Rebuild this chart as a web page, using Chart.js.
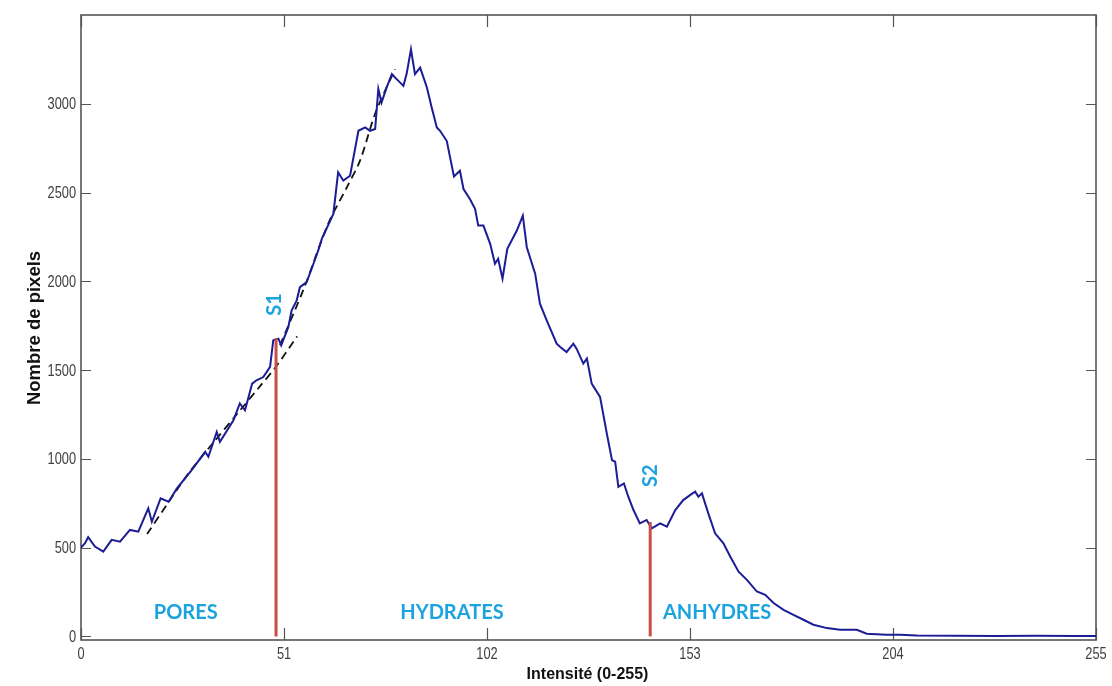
<!DOCTYPE html>
<html>
<head>
<meta charset="utf-8">
<script src="https://cdn.jsdelivr.net/npm/chart.js@4.4.1/dist/chart.umd.min.js"></script>
<style>
  html, body { margin: 0; padding: 0; background: #ffffff; }
  #wrap { width: 1112px; height: 686px; position: relative; }
</style>
</head>
<body>
<div id="wrap"><canvas id="c" width="1112" height="686"></canvas></div>
<script>
// ---- Data ----
const intensite = [0,1,1.8,3.5,5.6,7.7,9.8,12.3,14.4,16.9,17.8,20,22,24.1,27.8,31.2,32,34.1,34.9,38.3,39.9,41.2,43,44.1,45.8,47.5,48.3,49.6,50.3,52.1,52.9,54.2,55,56.7,58.4,59.6,60.5,63.4,64.6,65.9,67.6,69.7,71.4,72.6,73.9,74.7,75.5,76.8,78.1,79.3,81,81.8,82.9,83.9,85.2,86.9,88.1,89.4,90.2,91.9,93.7,95.2,96.1,97.7,99,99.8,101.1,102.8,104,104.8,105.9,107.1,109.5,111,112,114.1,115.3,117,119.5,120.4,122,123.7,124.5,126.2,127.1,128.3,130.4,132.1,133.4,134.2,135,136.4,137.5,138.8,140.4,142.1,143.4,145.5,147.2,149.3,151.3,153,154.3,155.1,156,157.6,159.3,161.4,163.1,165.2,167.3,169.8,171.9,174,176.5,179,181.5,184,187.4,190.7,194.9,197.4,202.4,205.8,210,220,230,240,250,255];
const nombrePixels = [500,525,559,506,478,544,534,600,590,722,646,778,759,834,937,1040,1012,1152,1096,1218,1312,1274,1424,1443,1461,1518,1668,1677,1640,1743,1836,1893,1967,1996,2099,2174,2239,2380,2614,2567,2595,2848,2867,2848,2858,3083,3007,3092,3167,3139,3101,3167,3307,3167,3204,3092,2979,2867,2848,2790,2590,2623,2520,2464,2408,2314,2314,2211,2099,2127,2015,2183,2286,2370,2192,2043,1874,1780,1649,1630,1602,1649,1621,1537,1565,1424,1349,1143,993,984,843,862,787,712,637,656,609,637,618,712,768,796,815,787,806,693,581,525,450,365,319,253,234,188,150,122,94,66,47,38,38,15,10,10,5,4,3,4,3,3];

const fitPoresX = [16.6,21.5,27.4,33.2,39.1,45,49,54.3];
const fitPoresY = [577,740,930,1090,1250,1410,1520,1690];
const fitHydX = [50,56,62.1,66.8,70.1,74,78.9];
const fitHydY = [1640,1960,2324,2530,2680,2950,3195];

const seuilS1X = [49, 49];
const seuilS1Y = [0, 1680];
const seuilS2X = [143, 143];
const seuilS2Y = [0, 645];

const xTicks = [0, 51, 102, 153, 204, 255];
const yTicks = [0, 500, 1000, 1500, 2000, 2500, 3000];
const xTickLabels = ["0", "51", "102", "153", "204", "255"];
const yTickLabels = ["0", "500", "1000", "1500", "2000", "2500", "3000"];

const zoneLabels = ["PORES", "HYDRATES", "ANHYDRES"];
const zoneLabelX = [26.3, 93.2, 159.8];
const seuilLabels = ["S1", "S2"];
const seuilLabelX = [48.6, 143.2];
const seuilLabelY = [1870, 905];

const xTitle = "Intensité (0-255)";
const yTitle = "Nombre de pixels";

const pts = (xs, ys) => xs.map((x, i) => ({ x: x, y: ys[i] }));

const framePlugin = {
  id: 'frame',
  beforeDatasetsDraw(chart) {
    const { ctx, chartArea: a, scales } = chart;
    ctx.save();
    ctx.strokeStyle = '#555555';
    ctx.lineWidth = 1.6;
    ctx.strokeRect(a.left, a.top, a.right - a.left, a.bottom - a.top);
    ctx.lineWidth = 1.2;
    ctx.beginPath();
    xTicks.forEach(v => {
      const px = Math.round(scales.x.getPixelForValue(v)) + 0.5;
      ctx.moveTo(px, a.bottom); ctx.lineTo(px, a.bottom - 12);
      ctx.moveTo(px, a.top); ctx.lineTo(px, a.top + 12);
    });
    yTicks.forEach(v => {
      const py = Math.round(scales.y.getPixelForValue(v)) + 0.5;
      ctx.moveTo(a.left, py); ctx.lineTo(a.left + 10, py);
      ctx.moveTo(a.right, py); ctx.lineTo(a.right - 10, py);
    });
    ctx.stroke();
    // tick labels (condensed, like the reference)
    ctx.fillStyle = '#404040';
    ctx.font = '16px "Liberation Sans", Arial, sans-serif';
    ctx.textBaseline = 'middle';
    ctx.textAlign = 'center';
    xTicks.forEach((v, i) => {
      ctx.save();
      ctx.translate(scales.x.getPixelForValue(v), 655);
      ctx.scale(0.8, 1);
      ctx.fillText(xTickLabels[i], 0, 0);
      ctx.restore();
    });
    ctx.textAlign = 'right';
    yTicks.forEach((v, i) => {
      ctx.save();
      ctx.translate(a.left - 5, scales.y.getPixelForValue(v) + 1);
      ctx.scale(0.8, 1);
      ctx.fillText(yTickLabels[i], 0, 0);
      ctx.restore();
    });
    ctx.restore();
  },
  afterDraw(chart) {
    const { ctx, chartArea: a, scales } = chart;
    ctx.save();
    ctx.fillStyle = '#111111';
    ctx.textAlign = 'center';
    ctx.textBaseline = 'middle';
    ctx.font = 'bold 16px "Liberation Sans", Arial, sans-serif';
    ctx.fillText(xTitle, (a.left + a.right) / 2 - 1, 675);
    ctx.save();
    ctx.translate(34.5, 328);
    ctx.rotate(-Math.PI / 2);
    ctx.font = 'bold 18.5px "Liberation Sans", Arial, sans-serif';
    ctx.fillText(yTitle, 0, 0);
    ctx.restore();
    ctx.fillStyle = '#1ba3e0';
    ctx.font = 'bold 20px Lato, "Open Sans", sans-serif';
    zoneLabels.forEach((t, i) => {
      ctx.fillText(t, scales.x.getPixelForValue(zoneLabelX[i]), scales.y.getPixelForValue(133));
    });
    seuilLabels.forEach((t, i) => {
      ctx.save();
      ctx.translate(scales.x.getPixelForValue(seuilLabelX[i]), scales.y.getPixelForValue(seuilLabelY[i]));
      ctx.rotate(-Math.PI / 2);
      ctx.fillText(t, 0, 0);
      ctx.restore();
    });
    ctx.restore();
  }
};

new Chart(document.getElementById('c'), {
  type: 'line',
  data: {
    datasets: [
      { data: pts(fitPoresX, fitPoresY), borderColor: '#111111', borderWidth: 1.8, borderDash: [8, 5], pointRadius: 0, tension: 0.3, order: 3 },
      { data: pts(fitHydX, fitHydY), borderColor: '#111111', borderWidth: 1.8, borderDash: [8, 5], pointRadius: 0, tension: 0.3, order: 3 },
      { data: pts(intensite, nombrePixels), borderColor: '#1c1c96', borderWidth: 2, pointRadius: 0, tension: 0, order: 2 },
      { data: pts(seuilS1X, seuilS1Y), borderColor: '#c65048', borderWidth: 3, pointRadius: 0, order: 1 },
      { data: pts(seuilS2X, seuilS2Y), borderColor: '#c65048', borderWidth: 3, pointRadius: 0, order: 1 }
    ]
  },
  options: {
    responsive: false,
    animation: false,
    layout: { padding: { top: 15, right: 16, left: 0, bottom: 0 } },
    plugins: { legend: { display: false }, tooltip: { enabled: false } },
    scales: {
      x: {
        type: 'linear', min: 0, max: 255,
        afterBuildTicks: s => { s.ticks = xTicks.map(v => ({ value: v })); },
        afterFit: s => { s.height = 46; },
        grid: { display: false, drawTicks: false },
        border: { display: false },
        ticks: { display: false }
      },
      y: {
        type: 'linear', min: -20, max: 3500,
        afterBuildTicks: s => { s.ticks = yTicks.map(v => ({ value: v })); },
        afterFit: s => { s.width = 81; },
        grid: { display: false, drawTicks: false },
        border: { display: false },
        ticks: { display: false }
      }
    }
  },
  plugins: [framePlugin]
});
</script>
</body>
</html>
